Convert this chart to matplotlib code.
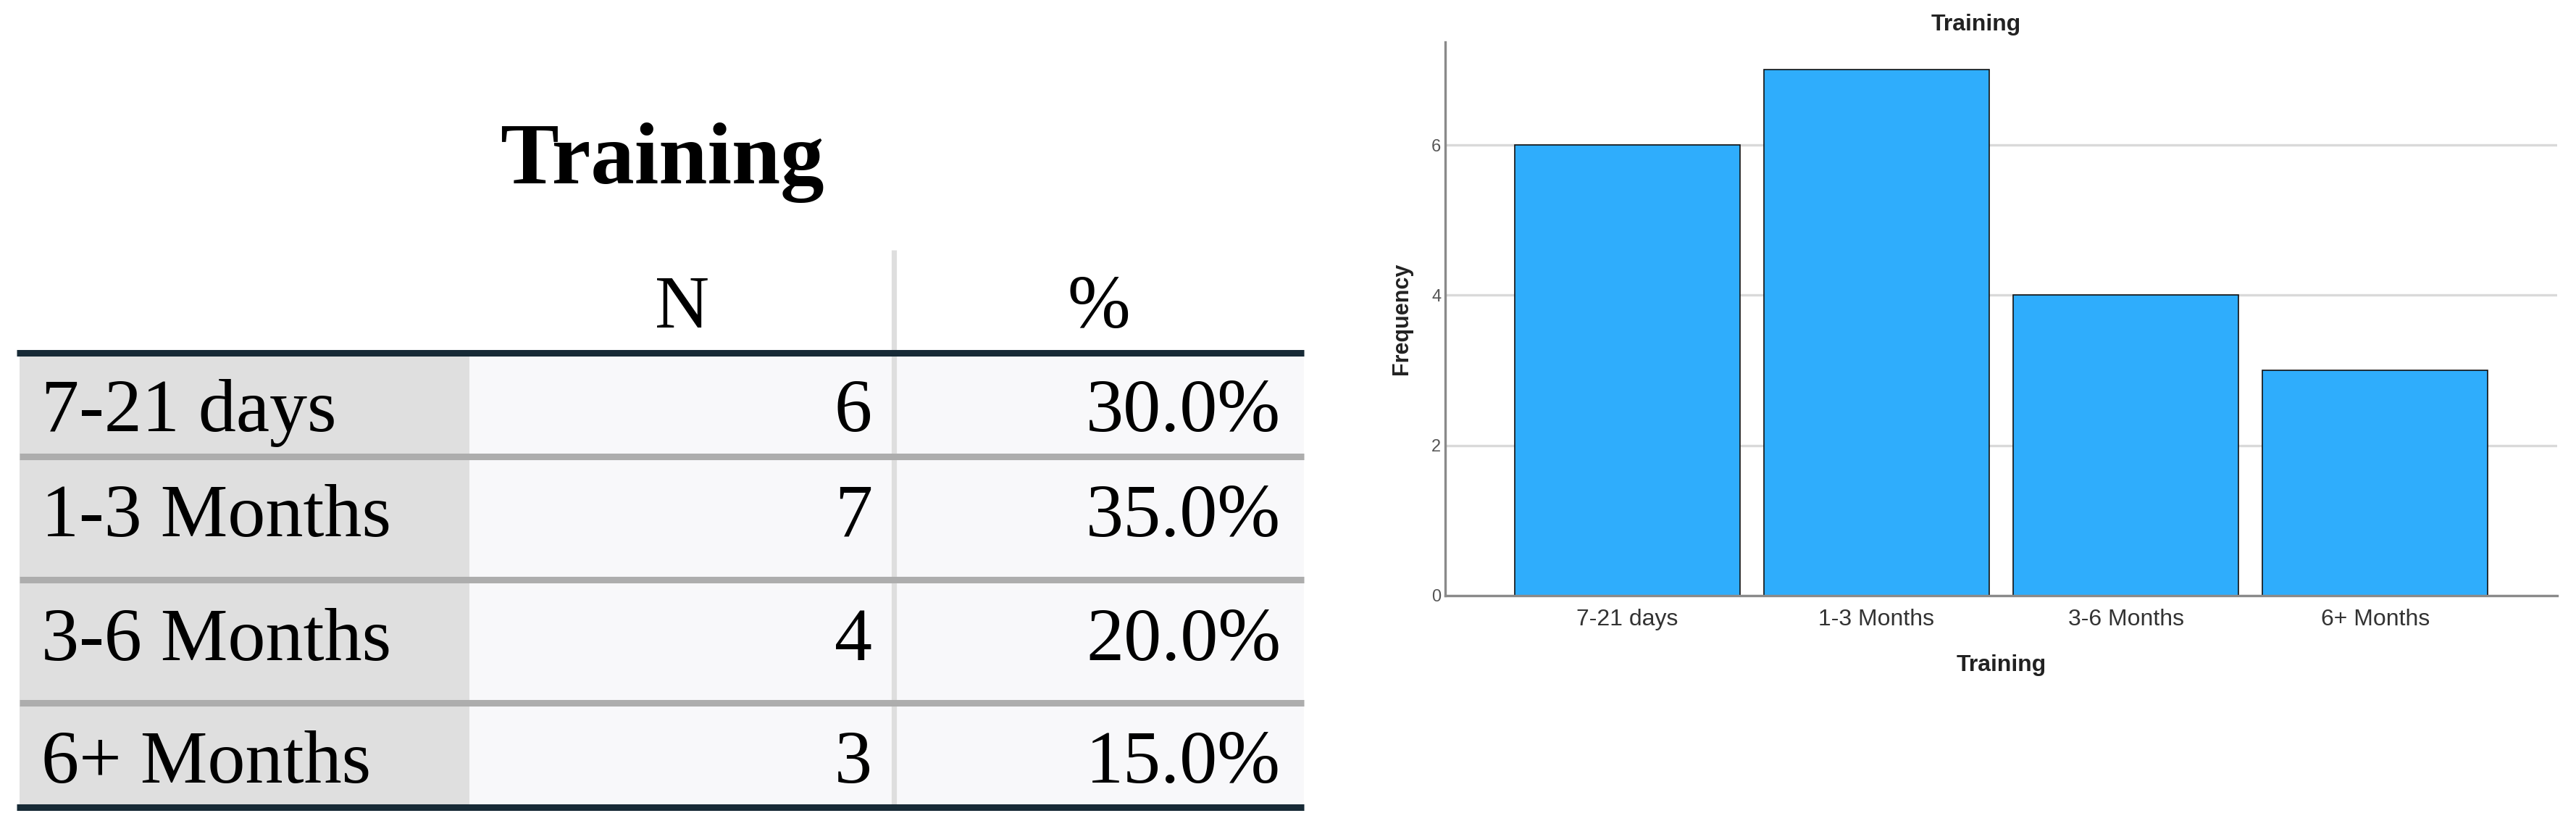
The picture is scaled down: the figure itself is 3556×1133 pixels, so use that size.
import matplotlib
matplotlib.use('Agg')
from matplotlib import pyplot as plt
from matplotlib.patches import Rectangle

categories = ['7-21 days', '1-3 Months', '3-6 Months', '6+ Months']
counts = [6, 7, 4, 3]
percents = ['30.0%', '35.0%', '20.0%', '15.0%']
col_headers = ['N', '%']
title = 'Training'
y_ticks = [0, 2, 4, 6]

W, H = 3556, 1133
fig = plt.figure(figsize=(W / 100, H / 100), dpi=100)

# ---- table on the left, drawn in pixel coords ----
tab = fig.add_axes([0, 0, 1, 1])
tab.set_xlim(0, W)
tab.set_ylim(H, 0)
tab.axis('off')

serif = 'Liberation Serif'
x0, x_lab, x_mid, x1 = 27, 648, 1234, 1800
row_edges = [487, 630, 800, 970, 1114]
baselines = [595, 740, 911, 1080]

for i in range(len(categories)):
    top, bot = row_edges[i], row_edges[i + 1]
    tab.add_patch(Rectangle((x0, top), x_lab - x0, bot - top, color='#dfdfdf', lw=0))
    tab.add_patch(Rectangle((x_lab, top), x1 - x_lab, bot - top, color='#f8f8fa', lw=0))

# vertical divider
tab.plot([x_mid, x_mid], [345, 1110], color='#dedede', lw=5.2, solid_capstyle='butt')

# horizontal rules
for j, y in enumerate(row_edges):
    dark = j in (0, len(row_edges) - 1)
    tab.plot([x0 - 4 if dark else x0, x1], [y, y], color='#172a36' if dark else '#adadad',
             lw=6.5, solid_capstyle='butt')

fs = 75
tab.text(914, 253, title, fontsize=87, fontweight='bold', family=serif, ha='center', va='baseline')
tab.text(942, 452, col_headers[0], fontsize=fs, family=serif, ha='center', va='baseline')
tab.text(1517, 452, col_headers[1], fontsize=fs, family=serif, ha='center', va='baseline')
for i, cat in enumerate(categories):
    tab.text(57, baselines[i], cat, fontsize=fs, family=serif, ha='left', va='baseline')
    tab.text(1204, baselines[i], str(counts[i]), fontsize=fs, family=serif, ha='right', va='baseline')
    tab.text(1768, baselines[i], percents[i], fontsize=fs, family=serif, ha='right', va='baseline')

# ---- bar chart on the right ----
left, right, top_px, bottom_px = 1995, 3530, 58, 822
ax = fig.add_axes([left / W, 1 - bottom_px / H, (right - left) / W, (bottom_px - top_px) / H])
sans = 'Liberation Sans'

pos = list(range(len(categories)))
ax.bar(pos, counts, width=0.905, color='#2fadfc', edgecolor='#111111', linewidth=1.2, zorder=3)
ax.set_xlim(-0.73, 3.73)
ax.set_ylim(0, 7.37)
ax.set_yticks(y_ticks)
ax.set_yticklabels([str(t) for t in y_ticks], fontsize=17, color='#555555', family=sans)
ax.set_xticks(pos)
ax.set_xticklabels(categories, fontsize=23, color='#333333', family=sans)
ax.tick_params(axis='y', length=0, pad=4)
ax.tick_params(axis='x', length=0, pad=13)
ax.grid(axis='y', color='#d9d9d9', linewidth=2.4, zorder=0)
for s in ['top', 'right']:
    ax.spines[s].set_visible(False)
ax.spines['left'].set_color('#8a8a8a')
ax.spines['left'].set_linewidth(2.4)
ax.spines['bottom'].set_color('#8a8a8a')
ax.spines['bottom'].set_linewidth(2.4)
ax.spines['bottom'].set_zorder(4)

ax.set_ylabel('Frequency', fontsize=22, fontweight='bold', family=sans, color='#222222')
ax.yaxis.set_label_coords(-45 / (right - left), 0.5)
ax.set_xlabel(title, fontsize=23, fontweight='bold', family=sans, color='#222222')
ax.xaxis.set_label_coords(0.5, -(903 - bottom_px) / (bottom_px - top_px))
ax.text((2728 - left) / (right - left), (bottom_px - 34) / (bottom_px - top_px), title,
        transform=ax.transAxes, fontsize=23, fontweight='bold', family=sans,
        color='#222222', ha='center', va='center')

fig.savefig('out.png', dpi=100, facecolor='white')
